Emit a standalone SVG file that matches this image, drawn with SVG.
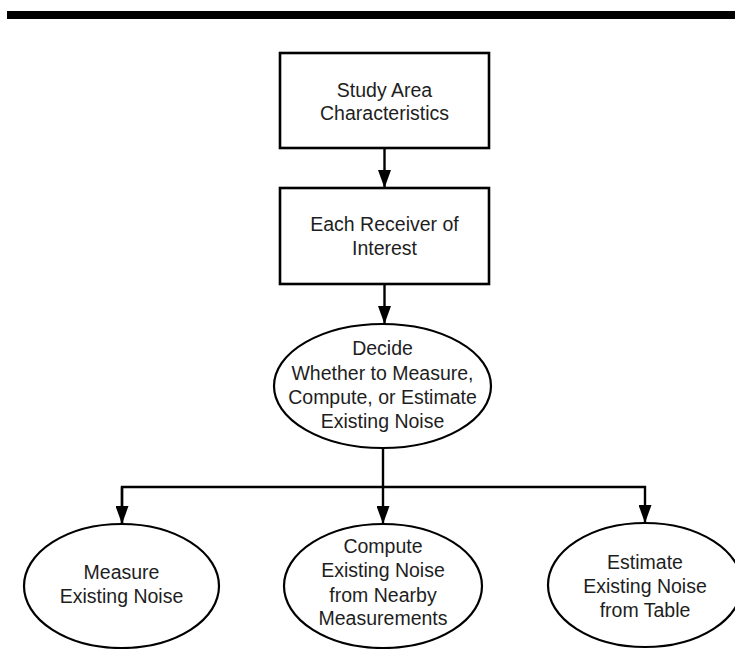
<svg xmlns="http://www.w3.org/2000/svg" width="735" height="649" viewBox="0 0 735 649">
<style>
.box{fill:#fff;stroke:#000;stroke-width:2.6}
.ell{fill:#fff;stroke:#000;stroke-width:2.2}
.t{font-family:"Liberation Sans",Arial,Helvetica,sans-serif;font-size:19.5px;fill:#1e1e1e;text-anchor:middle}
.c{fill:none;stroke:#000;stroke-width:2.4}
</style>
<defs>
<marker id="ah" markerUnits="userSpaceOnUse" markerWidth="18" markerHeight="13" refX="18" refY="6.5" orient="auto">
<path d="M0,0 L18,6.5 L0,13 z" fill="#000"/>
</marker>
</defs>
<rect x="7" y="11" width="728" height="8" fill="#000"/>
<g id="connectors">
<line class="c" x1="384.5" y1="148" x2="384.5" y2="188" marker-end="url(#ah)"/>
<line class="c" x1="384.5" y1="284" x2="384.5" y2="324" marker-end="url(#ah)"/>
<line class="c" x1="383" y1="448" x2="383" y2="524" marker-end="url(#ah)"/>
<polyline class="c" points="122,524 122,487 645,487 645,523" marker-end="url(#ah)"/>
<line class="c" x1="122" y1="487" x2="122" y2="524" marker-end="url(#ah)"/>
</g>
<g id="study-area">
<rect class="box" x="280" y="53" width="209" height="95"/>
<text class="t" x="384.5" y="97">Study Area</text>
<text class="t" x="384.5" y="120">Characteristics</text>
</g>
<g id="receiver">
<rect class="box" x="280" y="188" width="209" height="96"/>
<text class="t" x="384.5" y="231">Each Receiver of</text>
<text class="t" x="384.5" y="255">Interest</text>
</g>
<g id="decide">
<ellipse class="ell" cx="382.5" cy="386" rx="108.5" ry="62"/>
<text class="t" x="382.5" y="355">Decide</text>
<text class="t" x="382.5" y="380">Whether to Measure,</text>
<text class="t" x="382.5" y="404">Compute, or Estimate</text>
<text class="t" x="382.5" y="428">Existing Noise</text>
</g>
<g id="measure">
<ellipse class="ell" cx="121.5" cy="586" rx="97.5" ry="62"/>
<text class="t" x="121.5" y="579">Measure</text>
<text class="t" x="121.5" y="603">Existing Noise</text>
</g>
<g id="compute">
<ellipse class="ell" cx="383" cy="586" rx="99" ry="62"/>
<text class="t" x="383" y="553">Compute</text>
<text class="t" x="383" y="577">Existing Noise</text>
<text class="t" x="383" y="602">from Nearby</text>
<text class="t" x="383" y="625">Measurements</text>
</g>
<g id="estimate">
<ellipse class="ell" cx="645" cy="585" rx="97" ry="62"/>
<text class="t" x="645" y="569">Estimate</text>
<text class="t" x="645" y="593">Existing Noise</text>
<text class="t" x="645" y="617">from Table</text>
</g>
</svg>
